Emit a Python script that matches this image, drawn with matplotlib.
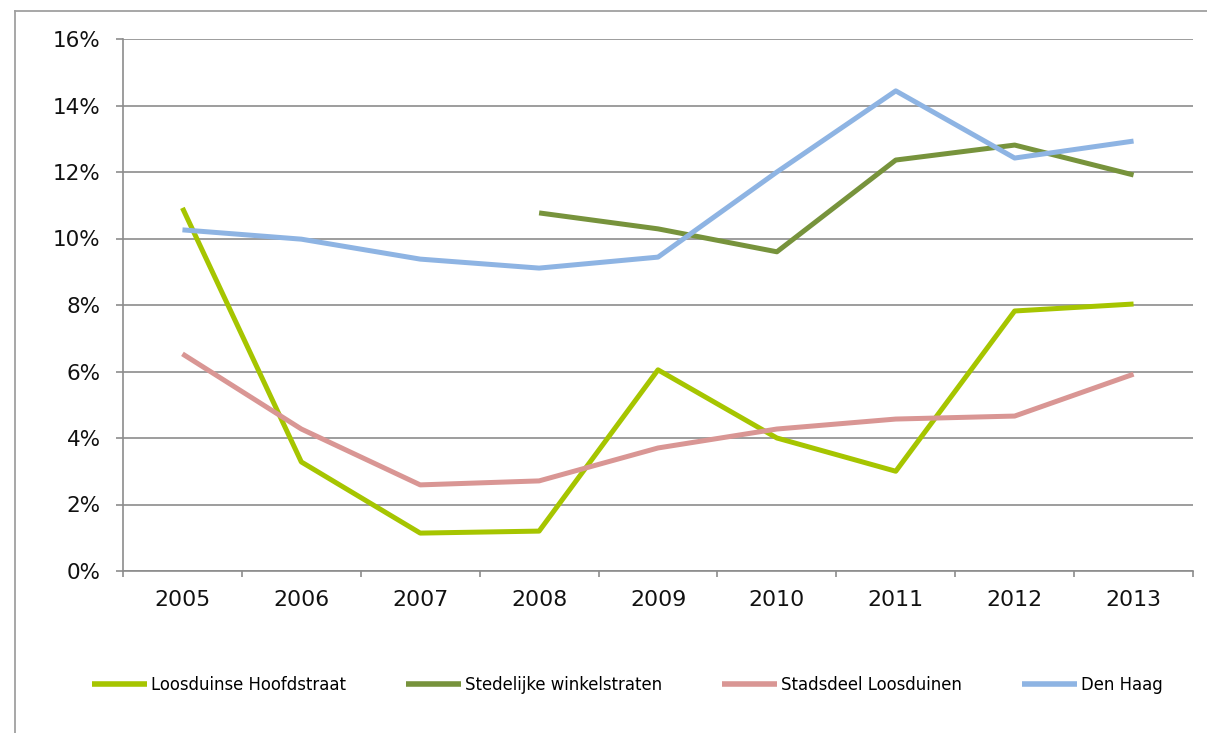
import numpy as np
import matplotlib
matplotlib.use("Agg")
import matplotlib.pyplot as plt
from matplotlib.lines import Line2D
from matplotlib.ticker import FuncFormatter

years = ["2005", "2006", "2007", "2008", "2009", "2010", "2011", "2012", "2013"]

loosduinse_hoofdstraat = [10.92, 3.28, 1.14, 1.20, 6.05, 4.00, 3.00, 7.82, 8.03]
stedelijke_winkelstraten = [np.nan, np.nan, np.nan, 10.77, 10.29, 9.60, 12.36, 12.81, 11.91]
stadsdeel_loosduinen = [6.53, 4.27, 2.59, 2.71, 3.70, 4.27, 4.57, 4.66, 5.92]
den_haag = [10.26, 9.98, 9.38, 9.11, 9.44, 12.00, 14.44, 12.42, 12.93]

series = [
    ("Loosduinse Hoofdstraat", loosduinse_hoofdstraat, "#a6c500"),
    ("Stedelijke winkelstraten", stedelijke_winkelstraten, "#77933c"),
    ("Stadsdeel Loosduinen", stadsdeel_loosduinen, "#d99694"),
    ("Den Haag", den_haag, "#8eb4e3"),
]

grey = "#8c8c8c"
W, H = 1207, 733
fig = plt.figure(figsize=(W / 100, H / 100), dpi=100)
ax = fig.add_axes([123 / W, 1 - 571 / H, (1193 - 123) / W, (571 - 39) / H])

x = np.arange(len(years))
for name, vals, col in series:
    ax.plot(x, vals, color=col, lw=3.6, label=name, solid_capstyle="butt", zorder=3)

ax.set_xlim(-0.5, len(years) - 0.5)
ax.set_ylim(0, 16)
ax.set_yticks(np.arange(0, 17, 2))
ax.yaxis.set_major_formatter(FuncFormatter(lambda v, p: f"{v:.0f}%"))
ax.set_xticks(x)
ax.set_xticklabels(years)
ax.set_xticks(np.arange(-0.5, len(years), 1), minor=True)

ax.grid(axis="y", color=grey, lw=1.2, zorder=0)
for s in ["top", "right"]:
    ax.spines[s].set_visible(False)
for s in ["left", "bottom"]:
    ax.spines[s].set_color(grey)
    ax.spines[s].set_linewidth(1.2)

ax.tick_params(axis="y", direction="out", length=5, width=1.2, color=grey,
               pad=11, labelsize=15.5, labelcolor="#111111")
ax.tick_params(axis="x", which="major", length=0, pad=14, labelsize=15.8,
               labelcolor="#111111")
ax.tick_params(axis="x", which="minor", direction="out", length=4.5, width=1.2,
               color=grey)

# outer chart frame
fig.add_artist(Line2D([15 / W, 15 / W], [0, 1 - 11 / H], color="#a0a0a0", lw=1.3,
                      transform=fig.transFigure))
fig.add_artist(Line2D([15 / W, 1], [1 - 11 / H, 1 - 11 / H], color="#a0a0a0", lw=1.3,
                      transform=fig.transFigure))

leg = fig.legend(loc="center left", bbox_to_anchor=(92 / W, 1 - 685 / H), ncol=4,
                 frameon=False, fontsize=11.9, handlelength=3.3, handletextpad=0.25,
                 columnspacing=3.65, borderpad=0, borderaxespad=0)
for h in leg.get_lines():
    h.set_linewidth(4)

fig.savefig("out.png", dpi=100)
